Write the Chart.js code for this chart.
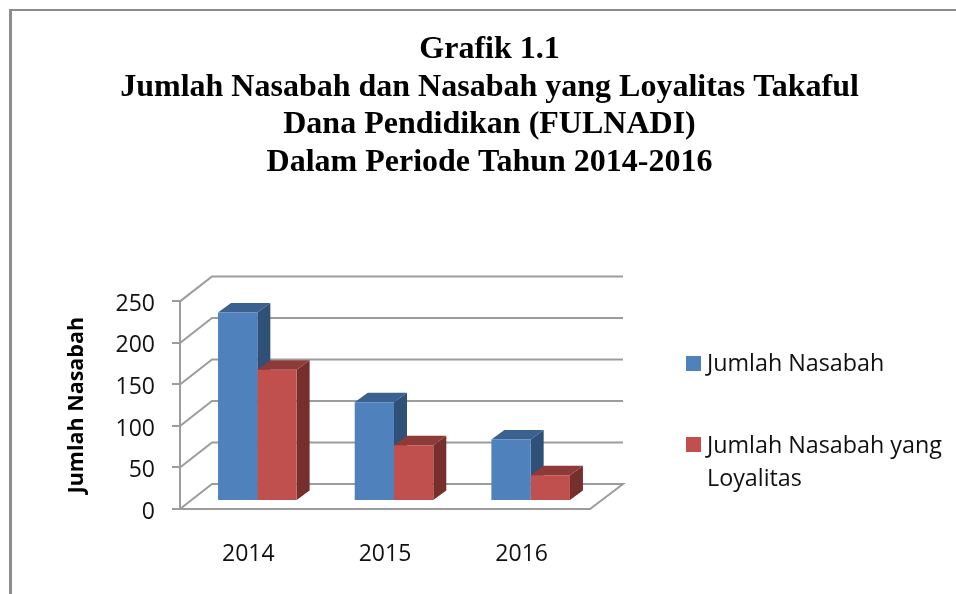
<!DOCTYPE html>
<html>
<head>
<meta charset="utf-8">
<style>
html,body{margin:0;padding:0;background:#fff;overflow:hidden}
#frame{position:absolute;left:9px;top:9px;width:947px;height:585px;border-top:2px solid #8c8c8c;border-left:3px solid #8c8c8c;box-sizing:border-box}
canvas{position:absolute;left:0;top:0}
</style>
<script src="https://cdn.jsdelivr.net/npm/chart.js@4"></script>
</head>
<body>
<div id="frame"></div>
<canvas id="c" width="956" height="594"></canvas>
<script>
const categories = ["2014", "2015", "2016"];
const jumlahNasabah = [227, 119, 74];
const jumlahLoyalitas = [158, 67, 31];
const seriesNames = ["Jumlah Nasabah", "Jumlah Nasabah yang Loyalitas"];
const legendLines = [["Jumlah Nasabah"], ["Jumlah Nasabah yang", "Loyalitas"]];
const titleLines = ["Grafik 1.1", "Jumlah Nasabah dan Nasabah yang Loyalitas Takaful", "Dana Pendidikan (FULNADI)", "Dalam Periode Tahun 2014-2016"];
const yAxisTitle = "Jumlah Nasabah";
const yMax = 250, yStep = 50;

const GRID = "#9c9c9c";
const FRONT = ["#4f81bd", "#c0504d"];
const TOP = ["#3b618f", "#8d3a38"];
const SIDE = ["#2f5178", "#772f2d"];
const SANS = "'Open Sans', sans-serif";

const wall3d = {
  id: "wall3d",
  beforeDatasetsDraw(chart) {
    const {ctx, chartArea: a, scales: {y}} = chart;
    const wx = 32, wy = 25, extra = 33;
    ctx.save();
    ctx.strokeStyle = GRID; ctx.lineWidth = 2;
    for (let v = 0; v <= yMax; v += yStep) {
      const p = y.getPixelForValue(v);
      ctx.beginPath();
      ctx.moveTo(a.left, p);
      ctx.lineTo(a.left + wx, p - wy);
      ctx.lineTo(a.right + extra, p - wy);
      if (v === 0) ctx.lineTo(a.right, p);
      ctx.stroke();
    }
    ctx.restore();
    ctx.save();
    ctx.translate(9, -8);
    const dx = 13, dy = 9.5;
    [0, 1].forEach(i => {
      chart.getDatasetMeta(i).data.forEach(b => {
        const l = b.x - b.width / 2, r = b.x + b.width / 2, t = b.y, bt = b.base;
        ctx.fillStyle = SIDE[i];
        ctx.beginPath();
        ctx.moveTo(r, t); ctx.lineTo(r + dx, t - dy); ctx.lineTo(r + dx, bt - dy); ctx.lineTo(r, bt);
        ctx.closePath(); ctx.fill();
        ctx.fillStyle = TOP[i];
        ctx.beginPath();
        ctx.moveTo(l, t); ctx.lineTo(l + dx, t - dy); ctx.lineTo(r + dx, t - dy); ctx.lineTo(r, t);
        ctx.closePath(); ctx.fill();
      });
    });
  },
  afterDatasetsDraw(chart) { chart.ctx.restore(); },
  afterDraw(chart) {
    const {ctx} = chart;
    ctx.save();
    ctx.font = "23.3px " + SANS;
    ctx.textBaseline = "middle";
    const rows = [[364.5], [446.5, 479]];
    const boxes = [356, 437];
    legendLines.forEach((lines, i) => {
      ctx.fillStyle = FRONT[i];
      ctx.fillRect(686, boxes[i], 15, 15);
      ctx.fillStyle = "#111";
      lines.forEach((s, j) => ctx.fillText(s, 707, rows[i][j]));
    });
    ctx.restore();
  }
};

new Chart(document.getElementById("c"), {
  type: "bar",
  data: {
    labels: categories,
    datasets: [
      {label: seriesNames[0], data: jumlahNasabah, backgroundColor: FRONT[0], clip: false},
      {label: seriesNames[1], data: jumlahLoyalitas, backgroundColor: FRONT[1], clip: false}
    ]
  },
  options: {
    responsive: false,
    animation: false,
    layout: {padding: {left: 23, right: 0, top: 0, bottom: 0}},
    datasets: {bar: {barPercentage: 1, categoryPercentage: 0.575}},
    plugins: {
      legend: {display: false},
      tooltip: {enabled: false},
      title: {
        display: true,
        text: titleLines,
        color: "#000",
        font: {family: "'Liberation Serif', serif", size: 32, weight: "bold", lineHeight: 1.175},
        padding: {top: 31, bottom: 120}
      }
    },
    scales: {
      x: {
        grid: {display: false},
        border: {display: true, color: GRID, width: 2},
        ticks: {color: "#111", font: {family: SANS, size: 23}, padding: 24},
        afterFit(s) { s.height = 85; }
      },
      y: {
        min: 0, max: yMax,
        grid: {drawOnChartArea: false, color: GRID, lineWidth: 2, tickLength: 8},
        border: {display: true, color: GRID, width: 2},
        ticks: {stepSize: yStep, color: "#111", font: {family: SANS, size: 23}, padding: 17},
        title: {display: true, text: yAxisTitle, color: "#000", font: {family: SANS, size: 21.5, weight: "bold"}, padding: {top: 41, bottom: 0}},
        afterFit(s) { s.width = 157; },
        afterUpdate(s) {
          const base = s._computeLabelItems;
          s._computeLabelItems = function (ca) {
            const items = base.call(this, ca);
            items.forEach(it => { it.options.translation = [it.options.translation[0], it.options.translation[1] + 1.5]; });
            return items;
          };
        }
      },
      spacer: {
        position: "right",
        grid: {display: false},
        border: {display: false},
        ticks: {display: false},
        afterFit(s) { s.width = 366; }
      }
    }
  },
  plugins: [wall3d]
});
</script>
</body>
</html>
